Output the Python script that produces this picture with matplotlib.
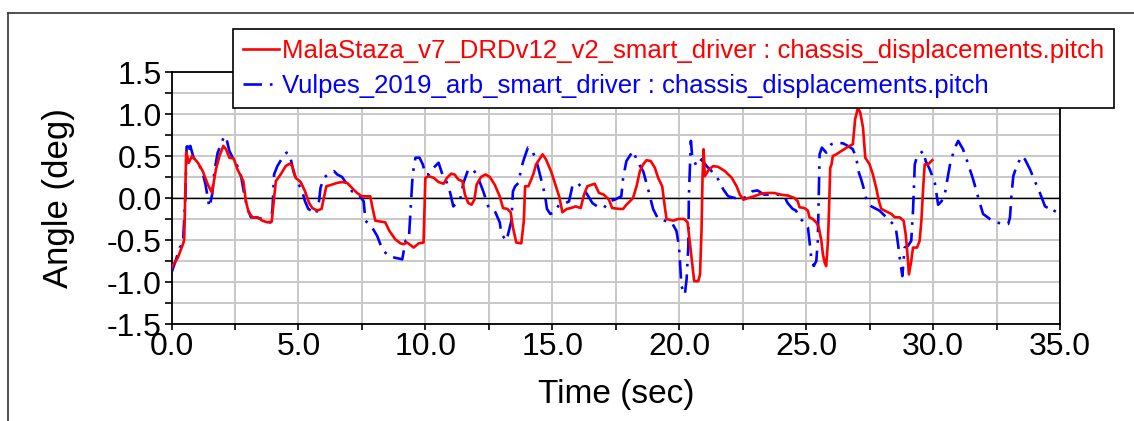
import matplotlib
matplotlib.use("Agg")
from matplotlib import pyplot as plt
from matplotlib.lines import Line2D
from matplotlib.ticker import MultipleLocator, FormatStrFormatter

plt.rcParams['font.family'] = ['Liberation Sans', 'DejaVu Sans']

# MalaStaza run (stops at ~30 s)
t_mala = [0.0, 0.25, 0.45, 0.50, 0.58, 0.68, 0.81, 1.04, 1.23, 1.43, 1.60, 1.65, 1.75, 1.89,
          2.04, 2.15, 2.28, 2.45, 2.60, 2.83, 2.93, 3.04, 3.19, 3.39, 3.58, 3.78, 3.95, 4.00,
          4.11, 4.30, 4.50, 4.66, 4.76, 4.89, 5.09, 5.26, 5.42, 5.55, 5.74, 5.91, 6.00, 6.10,
          6.33, 6.53, 6.72, 6.92, 7.11, 7.31, 7.50, 7.83, 7.92, 8.03, 8.22, 8.42, 8.58, 8.81,
          9.02, 9.15, 9.28, 9.54, 9.74, 9.93, 10.00, 10.13, 10.33, 10.52, 10.72, 10.85, 11.02,
          11.15, 11.30, 11.46, 11.56, 11.69, 11.82, 11.93, 12.02, 12.19, 12.37, 12.54, 12.73,
          12.93, 13.06, 13.23, 13.36, 13.45, 13.58, 13.78, 13.88, 13.93, 14.06, 14.17, 14.27,
          14.36, 14.49, 14.62, 14.75, 14.95, 15.10, 15.27, 15.40, 15.57, 15.73, 15.92, 16.12,
          16.25, 16.38, 16.58, 16.67, 16.84, 17.03, 17.23, 17.36, 17.66, 17.79, 17.92, 18.12,
          18.18, 18.32, 18.45, 18.58, 18.71, 18.88, 19.04, 19.17, 19.33, 19.43, 19.50, 19.76,
          19.96, 20.20, 20.33, 20.42, 20.51, 20.59, 20.75, 20.82, 20.88, 20.92, 20.96, 21.01,
          21.17, 21.34, 21.54, 21.80, 22.07, 22.26, 22.39, 22.53, 22.72, 22.95, 23.21, 23.48,
          23.74, 24.00, 24.27, 24.54, 24.67, 24.74, 24.93, 25.07, 25.13, 25.26, 25.40, 25.50,
          25.60, 25.66, 25.73, 25.79, 25.86, 25.90, 25.95, 26.00, 26.05, 26.19, 26.39, 26.65,
          26.84, 26.93, 27.04, 27.13, 27.24, 27.33, 27.50, 27.63, 27.76, 27.87, 27.96, 28.16,
          28.36, 28.49, 28.68, 28.84, 28.92, 28.97, 29.05, 29.14, 29.21, 29.37, 29.47, 29.54,
          29.61, 29.67, 29.80, 29.97]
pitch_mala = [-0.83, -0.71, -0.55, -0.50, 0.55, 0.42, 0.50, 0.42, 0.32, 0.16, 0.06, 0.16, 0.34, 0.50,
              0.62, 0.58, 0.48, 0.47, 0.34, 0.20, -0.04, -0.17, -0.23, -0.23, -0.27, -0.29, -0.28, -0.12,
              0.20, 0.28, 0.38, 0.41, 0.38, 0.24, 0.19, 0.08, -0.06, -0.12, -0.15, -0.13, 0.00, 0.14,
              0.16, 0.18, 0.19, 0.18, 0.12, 0.06, 0.02, 0.02, -0.12, -0.27, -0.28, -0.29, -0.39, -0.49,
              -0.54, -0.55, -0.53, -0.59, -0.54, -0.53, 0.24, 0.26, 0.24, 0.19, 0.17, 0.24, 0.29,
              0.28, 0.22, 0.20, 0.04, -0.06, -0.08, -0.02, 0.16, 0.25, 0.28, 0.25, 0.16,
              0.02, -0.12, -0.13, -0.17, -0.35, -0.53, -0.54, -0.27, 0.14, 0.14, 0.22, 0.30,
              0.40, 0.46, 0.52, 0.46, 0.32, 0.18, 0.02, -0.17, -0.13, -0.12, -0.10, -0.12,
              0.04, 0.14, 0.16, 0.17, 0.06, 0.04, -0.02, -0.12, -0.13, -0.13, -0.08, -0.02,
              0.00, 0.14, 0.32, 0.40, 0.45, 0.44, 0.36, 0.24, 0.14, -0.10, -0.25, -0.27,
              -0.25, -0.25, -0.29, -0.53, -0.77, -0.99, -0.99, -0.91, -0.37, 0.26, 0.58, 0.26,
              0.34, 0.38, 0.37, 0.32, 0.24, 0.14, 0.04, -0.02, 0.00, 0.02, 0.05, 0.06,
              0.06, 0.04, 0.03, 0.00, -0.04, -0.11, -0.12, -0.15, -0.23, -0.25, -0.29, -0.35,
              -0.51, -0.67, -0.77, -0.81, -0.51, -0.15, 0.36, 0.40, 0.50, 0.52, 0.56, 0.61,
              0.64, 0.94, 1.07, 1.02, 0.84, 0.48, 0.40, 0.28, 0.12, -0.04, -0.13, -0.16,
              -0.19, -0.23, -0.23, -0.27, -0.43, -0.59, -0.91, -0.75, -0.59, -0.59, -0.51, -0.27,
              0.12, 0.40, 0.40, 0.45]

# Vulpes run (full 35 s)
t_vulpes = [0.0, 0.16, 0.32, 0.45, 0.55, 0.60, 0.66, 0.74, 0.87, 1.04, 1.21, 1.34, 1.49, 1.60,
            1.69, 1.82, 1.95, 2.08, 2.17, 2.28, 2.41, 2.57, 2.74, 2.87, 3.00, 3.13, 3.32, 3.58,
            3.78, 3.91, 3.98, 4.04, 4.17, 4.37, 4.53, 4.66, 4.80, 4.95, 5.13, 5.26, 5.39, 5.55,
            5.70, 5.81, 5.87, 6.00, 6.20, 6.40, 6.53, 6.72, 6.92, 7.11, 7.37, 7.57, 7.64, 7.90,
            8.10, 8.29, 8.53, 8.79, 9.09, 9.22, 9.35, 9.41, 9.50, 9.61, 9.77, 9.90, 10.00, 10.13,
            10.26, 10.52, 10.65, 10.85, 10.98, 11.10, 11.24, 11.37, 11.50, 11.69, 11.89, 12.08,
            12.28, 12.50, 12.73, 12.93, 13.00, 13.19, 13.26, 13.39, 13.45, 13.54, 13.67, 13.78,
            13.88, 14.04, 14.17, 14.30, 14.43, 14.58, 14.71, 14.79, 14.92, 15.08, 15.27, 15.47,
            15.66, 15.79, 15.99, 16.19, 16.38, 16.58, 16.77, 17.03, 17.23, 17.46, 17.72, 17.79,
            17.92, 18.18, 18.38, 18.58, 18.78, 18.97, 19.17, 19.43, 19.70, 19.89, 19.99, 20.09,
            20.22, 20.29, 20.36, 20.38, 20.46, 20.51, 20.68, 20.88, 21.08, 21.34, 21.54, 21.74,
            21.93, 22.20, 22.46, 22.69, 22.88, 23.08, 23.35, 23.61, 23.88, 24.14, 24.27, 24.47,
            24.60, 24.78, 24.93, 25.07, 25.13, 25.20, 25.30, 25.40, 25.46, 25.49, 25.53, 25.62,
            25.79, 25.99, 26.20, 26.46, 26.70, 26.84, 26.97, 27.08, 27.17, 27.30, 27.39, 27.57,
            27.89, 28.09, 28.36, 28.53, 28.62, 28.71, 28.79, 28.88, 29.01, 29.14, 29.21, 29.28,
            29.37, 29.61, 29.71, 29.87, 30.07, 30.20, 30.33, 30.46, 30.55, 30.68, 30.86, 30.99,
            31.18, 31.32, 31.45, 31.58, 31.71, 31.84, 31.97, 32.24, 32.50, 32.76, 32.96, 33.03,
            33.09, 33.16, 33.29, 33.49, 33.62, 33.82, 34.01, 34.21, 34.41, 34.61, 34.76, 34.93,
            35.00]
pitch_vulpes = [-0.89, -0.75, -0.59, -0.55, 0.04, 0.67, 0.54, 0.62, 0.48, 0.42, 0.32, 0.16, -0.11, 0.04,
                0.32, 0.54, 0.64, 0.74, 0.70, 0.56, 0.48, 0.40, 0.26, 0.04, -0.13, -0.23, -0.23, -0.25,
                -0.29, -0.29, -0.12, 0.28, 0.38, 0.48, 0.54, 0.52, 0.32, 0.19, 0.10, -0.04, -0.13, -0.16,
                -0.19, -0.04, 0.12, 0.24, 0.29, 0.32, 0.28, 0.25, 0.16, 0.08, 0.04, -0.04, -0.27, -0.35,
                -0.45, -0.60, -0.69, -0.71, -0.73, -0.51, -0.49, -0.19, 0.28, 0.48, 0.48, 0.40, 0.28, 0.28,
                0.34, 0.42, 0.30, 0.18, 0.06, -0.10, -0.06, -0.02, 0.18, 0.34, 0.34, 0.24,
                0.08, -0.12, -0.15, -0.29, -0.43, -0.51, -0.43, -0.27, 0.08, 0.14, 0.18, 0.36,
                0.46, 0.60, 0.58, 0.50, 0.38, 0.20, 0.04, -0.13, -0.19, -0.17, -0.08, -0.07,
                -0.04, 0.14, 0.18, 0.12, 0.04, -0.06, -0.10, -0.12, -0.04, -0.02, 0.02, 0.24,
                0.44, 0.56, 0.42, 0.32, 0.10, -0.13, -0.25, -0.27, -0.29, -0.39, -0.57, -1.05,
                -1.15, -0.97, -0.57, 0.02, 0.68, 0.50, 0.38, 0.46, 0.38, 0.30, 0.22, 0.10,
                0.02, 0.00, -0.01, 0.02, 0.08, 0.09, 0.04, 0.04, 0.04, 0.02, -0.06, -0.13,
                -0.15, -0.25, -0.29, -0.35, -0.51, -0.71, -0.81, -0.75, -0.51, -0.08, 0.52, 0.60,
                0.54, 0.64, 0.66, 0.65, 0.61, 0.58, 0.48, 0.30, 0.22, 0.08, -0.04, -0.10,
                -0.15, -0.21, -0.29, -0.35, -0.55, -0.77, -0.93, -0.59, -0.57, -0.51, -0.15, 0.40,
                0.50, 0.56, 0.44, 0.34, 0.18, -0.08, -0.04, 0.04, 0.20, 0.42, 0.60, 0.68,
                0.58, 0.46, 0.34, 0.22, 0.08, -0.06, -0.19, -0.25, -0.29, -0.31, -0.31, -0.23,
                0.04, 0.26, 0.38, 0.50, 0.46, 0.34, 0.20, 0.06, -0.10, -0.13, -0.17, -0.08,
                -0.06]

label_mala = "MalaStaza_v7_DRDv12_v2_smart_driver : chassis_displacements.pitch"
label_vulpes = "Vulpes_2019_arb_smart_driver : chassis_displacements.pitch"

W, H = 1134, 421
fig = plt.figure(figsize=(W / 100, H / 100), dpi=100)
ax = fig.add_axes([171.5 / W, 1 - 324 / H, (1060 - 171.5) / W, (324 - 72) / H])

# outer plot frame (left and top edges)
fig.add_artist(Line2D([8 / W, 8 / W], [0, 1 - 13 / H], color='#333333', lw=1.2))
fig.add_artist(Line2D([8 / W, 1], [1 - 13 / H, 1 - 13 / H], color='#333333', lw=1.2))

ax.plot(t_mala, pitch_mala, color='#ff0000', lw=1.9, label=label_mala, zorder=4)
ax.plot(t_vulpes, pitch_vulpes, color='#0000ff', lw=1.9, dashes=(7, 3, 1, 3),
        label=label_vulpes, zorder=3)
ax.axhline(0, color='black', lw=1.0, zorder=2)

ax.set_xlim(0, 35)
ax.set_ylim(-1.5, 1.5)
ax.xaxis.set_major_locator(MultipleLocator(5))
ax.xaxis.set_minor_locator(MultipleLocator(2.5))
ax.yaxis.set_major_locator(MultipleLocator(0.5))
ax.yaxis.set_minor_locator(MultipleLocator(0.25))
ax.xaxis.set_major_formatter(FormatStrFormatter('%.1f'))
ax.yaxis.set_major_formatter(FormatStrFormatter('%.1f'))
ax.grid(True, which='both', color='#c8c8c8', lw=1.4, zorder=1)
ax.set_axisbelow(True)
ax.tick_params(axis='both', which='both', direction='out', length=5, width=1.2,
               labelsize=23, pad=2)
ax.tick_params(axis='x', which='both', length=4, pad=2)
for s in ax.spines.values():
    s.set_linewidth(1.3)

ax.set_xlabel("Time (sec)", fontsize=24, labelpad=12)
ax.set_ylabel("Angle (deg)", fontsize=25, labelpad=23)

leg = fig.legend(loc='upper left', bbox_to_anchor=(233 / W, 1 - 29 / H),
                 bbox_transform=fig.transFigure, borderaxespad=0, fontsize=18.5,
                 fancybox=False, framealpha=1, edgecolor='black', labelcolor='linecolor',
                 handlelength=1.4, handletextpad=0.1, borderpad=0.4, labelspacing=0.4)
leg.get_frame().set_linewidth(1.2)

plt.savefig("out.png", dpi=100)
